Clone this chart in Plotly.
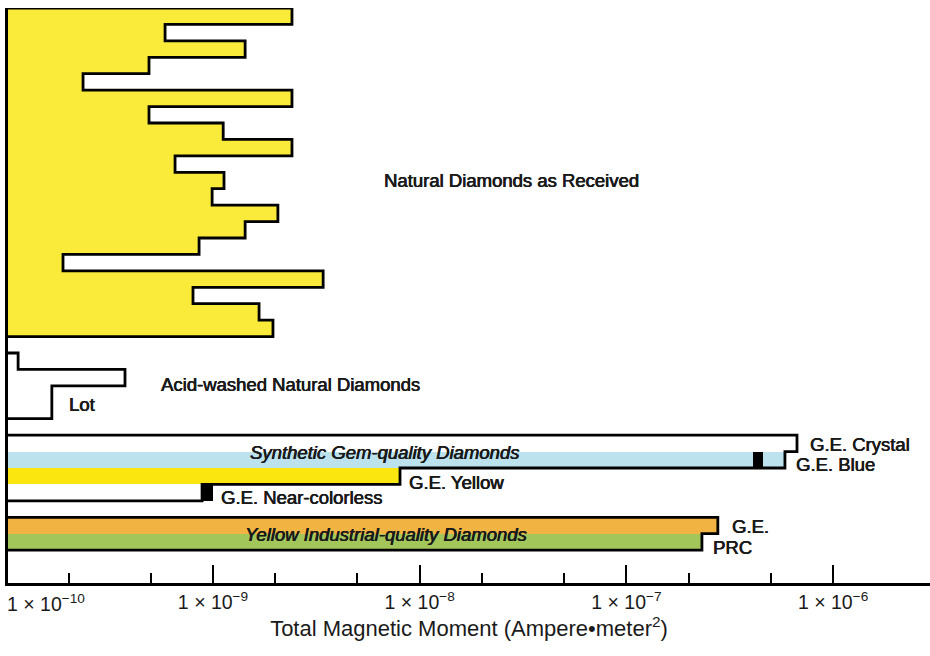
import numpy as np
import plotly.graph_objects as go

# ---------------- data ----------------
natural_values = [2.41e-9, 5.86e-10, 1.43e-9, 4.90e-10, 2.35e-10,
                  2.41e-9, 4.90e-10, 1.12e-9, 2.41e-9, 6.55e-10,
                  1.13e-9, 9.90e-10, 2.06e-9, 1.43e-9, 8.56e-10,
                  1.88e-10, 3.41e-9, 8.00e-10, 1.67e-9, 1.95e-9]

acid_values = [1.14e-10, 3.75e-10, 1.66e-10, 1.66e-10]

synthetic_labels = ["G.E. Crystal", "G.E. Blue", "G.E. Yellow", "G.E. Near-colorless"]
synthetic_values = [6.69e-7, 5.85e-7, 8.03e-9, 8.85e-10]
synthetic_range_lo = [None, 4.10e-7, None, 8.85e-10]
synthetic_range_hi = [None, 4.58e-7, None, 1.00e-9]

industrial_labels = ["G.E.", "PRC"]
industrial_values = [2.77e-7, 2.32e-7]

major_ticks = [1e-9, 1e-8, 1e-7, 1e-6]
major_tick_text = ["1 × 10<sup>−9</sup>", "1 × 10<sup>−8</sup>",
                   "1 × 10<sup>−7</sup>", "1 × 10<sup>−6</sup>"]
minor_ticks = [2e-10, 5e-10, 2e-9, 5e-9, 2e-8, 5e-8, 2e-7, 5e-7]
first_tick_text = "1 × 10<sup>−10</sup>"

# ---------------- styles / layout constants ----------------
FONT = "Liberation Sans, Arial, Helvetica, sans-serif"
INK = "#1a1a1a"
NAT_YELLOW = "#FAEB3A"
SYN_BLUE = "#BCE2EE"
SYN_YELLOW = "#FCE60F"
IND_ORANGE = "#F1B443"
IND_GREEN = "#A3C65A"
LABEL_SIZE = 18.5
TICK_SIZE = 19.5
HEAVY = "0.45px 0px 0px #1a1a1a, -0.2px 0px 0px #1a1a1a"

XRANGE = [-9.992, -5.531]
X_LEFT = 10 ** (XRANGE[0] - 0.05)
N_ROWS = 35

nat_rows = list(range(0, 20))
acid_rows = list(range(21, 25))
syn_rows = list(range(26, 30))
ind_rows = list(range(31, 33))

syn_fill = ["rgba(0,0,0,0)", SYN_BLUE, SYN_YELLOW, "rgba(0,0,0,0)"]
ind_fill = [IND_ORANGE, IND_GREEN]

fig = go.Figure()


def add_fill(rows, values, colors):
    fig.add_trace(go.Bar(
        orientation="h", y=rows, x=values, width=1.0,
        marker=dict(color=colors, line=dict(width=0)),
        hoverinfo="x", showlegend=False))


def add_outline(rows, values):
    xs = [X_LEFT]
    ys = [rows[0] - 0.5]
    for r, v in zip(rows, values):
        xs += [v, v]
        ys += [r - 0.5, r + 0.5]
    xs.append(X_LEFT)
    ys.append(rows[-1] + 0.5)
    fig.add_trace(go.Scatter(
        x=xs, y=ys, mode="lines",
        line=dict(color="black", width=2.8),
        hoverinfo="skip", showlegend=False))


add_fill(nat_rows, natural_values, [NAT_YELLOW] * len(nat_rows))
add_fill(syn_rows, synthetic_values, syn_fill)
add_fill(ind_rows, industrial_values, ind_fill)

# range blocks (black)
rb_rows, rb_base, rb_len = [], [], []
for r, lo, hi in zip(syn_rows, synthetic_range_lo, synthetic_range_hi):
    if lo is not None:
        rb_rows.append(r)
        rb_base.append(lo)
        rb_len.append(hi - lo)
fig.add_trace(go.Bar(orientation="h", y=rb_rows, x=rb_len, base=rb_base,
                     width=1.0, marker=dict(color="black", line=dict(width=0)),
                     showlegend=False, hoverinfo="skip"))

add_outline(nat_rows, natural_values)
add_outline(acid_rows, acid_values)
add_outline(syn_rows, synthetic_values)
add_outline(ind_rows, industrial_values)

# ---------------- annotations ----------------
ann = []


def label(text, x, y, xanchor="center", xshift=0, yshift=0, italic=False):
    ann.append(dict(text=f"<i>{text}</i>" if italic else text,
                    x=x, y=y, xref="x", yref="y", xanchor=xanchor,
                    yanchor="middle", xshift=xshift, yshift=yshift,
                    showarrow=False,
                    font=dict(family=FONT, size=LABEL_SIZE, color=INK,
                              shadow=HEAVY)))


label("Natural Diamonds as Received", -7.5535, 10.0)
label("Acid-washed Natural Diamonds", -8.6275, 22.42)
label("Lot", np.log10(acid_values[2]), 23.63, xanchor="left", xshift=15)
label("Synthetic Gem-quality Diamonds", -8.168, 26.55, italic=True)
label("Yellow Industrial-quality Diamonds", -8.1645, 31.54, italic=True)

syn_y = [26.07, 27.28, 28.38, 29.29]
syn_dx = [11, 9, 7, 17]
for t, v, yy, dx in zip(synthetic_labels, synthetic_values, syn_y, syn_dx):
    label(t, np.log10(v), yy, xanchor="left", xshift=dx)

ind_y = [31.05, 32.33]
ind_dx = [12, 9]
for t, v, yy, dx in zip(industrial_labels, industrial_values, ind_y, ind_dx):
    label(t, np.log10(v), yy, xanchor="left", xshift=dx)

# first tick label (left-aligned at the axis start)
ann.append(dict(text=first_tick_text, x=0, y=0, xref="paper", yref="paper",
                xanchor="left", yanchor="top", xshift=-3, yshift=-6,
                showarrow=False,
                font=dict(family=FONT, size=TICK_SIZE, color=INK)))

fig.update_layout(
    width=930, height=656,
    margin=dict(l=8, r=0, t=8, b=73),
    paper_bgcolor="white", plot_bgcolor="white",
    barmode="overlay", bargap=0,
    font=dict(family=FONT, color=INK),
    annotations=ann,
    xaxis=dict(
        type="log", range=XRANGE,
        showgrid=False, zeroline=False,
        showline=True, linecolor="black", linewidth=2.5,
        tickmode="array", tickvals=major_ticks, ticktext=major_tick_text,
        ticks="inside", ticklen=18, tickwidth=2, tickcolor="black",
        tickfont=dict(family=FONT, size=TICK_SIZE, color=INK),
        minor=dict(tickmode="array", tickvals=minor_ticks, ticks="inside",
                   ticklen=10, tickwidth=2, tickcolor="black", showgrid=False),
        title=dict(text="Total Magnetic Moment (Ampere•meter<sup>2</sup>)",
                   font=dict(family=FONT, size=22, color=INK), standoff=9),
        automargin=False,
    ),
    yaxis=dict(
        range=[N_ROWS - 0.5, -0.5],
        showgrid=False, zeroline=False, showticklabels=False, ticks="",
        showline=True, linecolor="black", linewidth=2.5,
        automargin=False,
    ),
)

fig.write_html("out.html",
               config={"displayModeBar": False},
               post_script="document.body.style.margin='0px';"
                           "document.body.style.overflow='hidden';")
